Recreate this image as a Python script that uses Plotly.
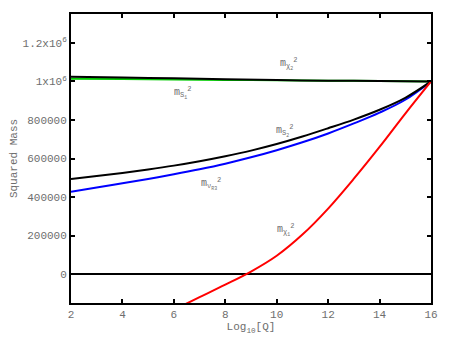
import plotly.graph_objects as go

# curve data (x = log10 Q, y = squared mass)
x_top = [2, 4, 6, 8, 10, 12, 14, 16]
m_chi2 = [1024000, 1020000, 1016000, 1011000, 1007000, 1004000, 1002000, 1000000]
m_s1 = [1014000, 1012000, 1010000, 1008000, 1006000, 1004000, 1002000, 1000000]

x_q = [2, 3, 4, 5, 6, 7, 8, 9, 10, 11, 12, 13, 14, 15, 16]
m_s2 = [494000, 509000, 525000, 543000, 563000, 586000, 612000, 641000, 675000, 714000,
        757000, 802000, 853000, 915000, 1000000]
m_vr3 = [428000, 449000, 471000, 494000, 518000, 544000, 573000, 606000, 643000, 684000,
         730000, 782000, 838000, 905000, 1000000]

x_chi1 = [6, 7, 8, 9, 10, 11, 12, 13, 14, 15, 16]
m_chi1 = [-185000, -120000, -55000, 13000, 95000, 205000, 340000, 495000, 660000, 833000, 1000000]

y_tickvals = [0, 200000, 400000, 600000, 800000, 1000000, 1200000]
y_ticktext = ["0", "200000", "400000", "600000", "800000", "1x10<sup>6</sup>", "1.2x10<sup>6</sup>"]

labels = ["m<sub>χ<sub>2</sub></sub><sup>2</sup>", "m<sub>S<sub>1</sub></sub><sup>2</sup>",
          "m<sub>S<sub>2</sub></sub><sup>2</sup>", "m<sub>ν<sub>R3</sub></sub><sup>2</sup>",
          "m<sub>χ<sub>1</sub></sub><sup>2</sup>"]
label_x = [10.44, 6.34, 10.3, 7.43, 10.36]
label_y = [1095000, 944000, 747000, 468000, 234000]

font = "Liberation Mono, Courier New, monospace"
grey = "#6e6e6e"

fig = go.Figure()
fig.add_trace(go.Scatter(x=[2, 16], y=[0, 0], mode="lines", line=dict(color="black", width=2)))
fig.add_trace(go.Scatter(x=x_top, y=m_s1, mode="lines", line=dict(color="#00cc00", width=2, shape="spline")))
fig.add_trace(go.Scatter(x=x_top, y=m_chi2, mode="lines", line=dict(color="black", width=2, shape="spline")))
fig.add_trace(go.Scatter(x=x_q, y=m_vr3, mode="lines", line=dict(color="#0000ff", width=2, shape="spline")))
fig.add_trace(go.Scatter(x=x_q, y=m_s2, mode="lines", line=dict(color="black", width=2, shape="spline")))
fig.add_trace(go.Scatter(x=x_chi1, y=m_chi1, mode="lines", line=dict(color="#ff0000", width=2, shape="spline")))

for t, lx, ly in zip(labels, label_x, label_y):
	fig.add_annotation(x=lx, y=ly, text=t, showarrow=False, font=dict(family=font, size=10, color=grey))

axis_style = dict(showline=True, linecolor="black", linewidth=2, mirror="ticks", automargin=False,
	ticks="inside", ticklen=4, tickwidth=2, tickcolor="black", showgrid=False, zeroline=False,
	tickfont=dict(family=font, size=11, color=grey))

# page body adds an 8px offset, so the figure is a bit smaller than the window
fig.update_layout(
	width=442, height=346, showlegend=False,
	plot_bgcolor="white", paper_bgcolor="white",
	margin=dict(l=63, r=19, t=6, b=51),
	xaxis=dict(range=[2, 16], tickvals=[2, 4, 6, 8, 10, 12, 14, 16],
		title=dict(text="Log<sub>10</sub>[Q]", font=dict(family=font, size=11, color=grey), standoff=2),
		**axis_style),
	yaxis=dict(range=[-150000, 1350000], tickvals=y_tickvals, ticktext=y_ticktext,
		title=dict(text="Squared Mass", font=dict(family=font, size=11, color=grey), standoff=18),
		**axis_style),
)

fig.write_html("out.html")
